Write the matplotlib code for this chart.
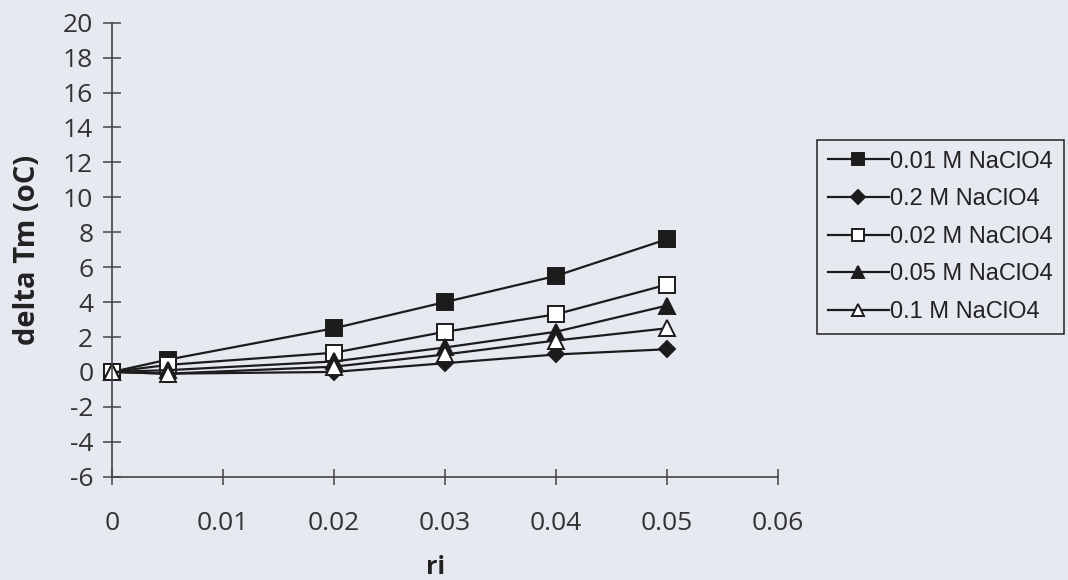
import matplotlib.pyplot as plt
import numpy as np

plt.rcParams['axes.unicode_minus'] = False

# ri values and delta Tm (oC)
ri = [0, 0.005, 0.02, 0.03, 0.04, 0.05]
tm_001 = [0, 0.7, 2.5, 4.0, 5.5, 7.6]
tm_02 = [0, -0.1, 0.0, 0.5, 1.0, 1.3]
tm_002 = [0, 0.4, 1.1, 2.3, 3.3, 5.0]
tm_005 = [0, 0.1, 0.6, 1.4, 2.3, 3.8]
tm_01 = [0, -0.1, 0.3, 1.0, 1.8, 2.5]

labels = ['0.01 M NaClO4', '0.2 M NaClO4', '0.02 M NaClO4',
          '0.05 M NaClO4', '0.1 M NaClO4']
series = [tm_001, tm_02, tm_002, tm_005, tm_01]

bg = '#e7e9f1'
ink = '#1c1c1c'
styles = [
    dict(marker='s', mfc=ink, ms=11),
    dict(marker='D', mfc=ink, ms=8.5),
    dict(marker='s', mfc='white', ms=11),
    dict(marker='^', mfc=ink, ms=11),
    dict(marker='^', mfc='white', ms=11),
]

fig = plt.figure(figsize=(10.68, 5.8), dpi=100, facecolor=bg)
ax = fig.add_axes([112/1068, 1 - 476.7/580, 666/1068, 454/580])
ax.set_facecolor(bg)

handles = []
for vals, lab, st in zip(series, labels, styles):
    h, = ax.plot(ri, vals, color=ink, lw=1.6, mec=ink, mew=1.4,
                 label=lab, clip_on=False, **st)
    handles.append(h)

ax.set_xlim(0, 0.06)
ax.set_ylim(-6, 20)
ax.set_xticks(np.arange(0, 0.061, 0.01))
ax.set_xticklabels(['0', '0.01', '0.02', '0.03', '0.04', '0.05', '0.06'])
ax.set_yticks(np.arange(-6, 21, 2))

for side in ['top', 'right']:
    ax.spines[side].set_visible(False)
for side in ['left', 'bottom']:
    ax.spines[side].set_color('#444444')
    ax.spines[side].set_linewidth(1.2)

ax.tick_params(axis='y', direction='inout', length=13, width=1.1,
               color='#444444', pad=7, labelsize=19, labelcolor='#333333')
ax.tick_params(axis='x', direction='inout', length=12, width=1.1,
               color='#444444', pad=19, labelsize=19, labelcolor='#333333')
for t in ax.get_xticklabels() + ax.get_yticklabels():
    t.set_fontfamily('Open Sans')

ax.set_ylabel('delta Tm (oC)', fontsize=21, fontweight='bold',
              family='Open Sans', color='#222222')
ax.yaxis.set_label_coords(-70/666, 0.5)
ax.set_xlabel('ri', fontsize=18, fontweight='bold', family='Open Sans',
              color='#222222')
ax.xaxis.set_label_coords((435 - 112)/666, -78/454)

leg = fig.legend(handles=handles, loc='upper left',
                 bbox_to_anchor=(817/1068, 1 - 140/580),
                 prop={'family': 'Liberation Sans', 'size': 17},
                 frameon=True, fancybox=False, edgecolor='#222222',
                 facecolor=bg, framealpha=1, markerscale=0.85,
                 handlelength=2.6, handletextpad=0.05, labelspacing=0.66,
                 borderpad=0.45, borderaxespad=0)
leg.get_frame().set_linewidth(1.1)
for t in leg.get_texts():
    t.set_color('#222222')

fig.savefig('out.png', dpi=100, facecolor=bg)
